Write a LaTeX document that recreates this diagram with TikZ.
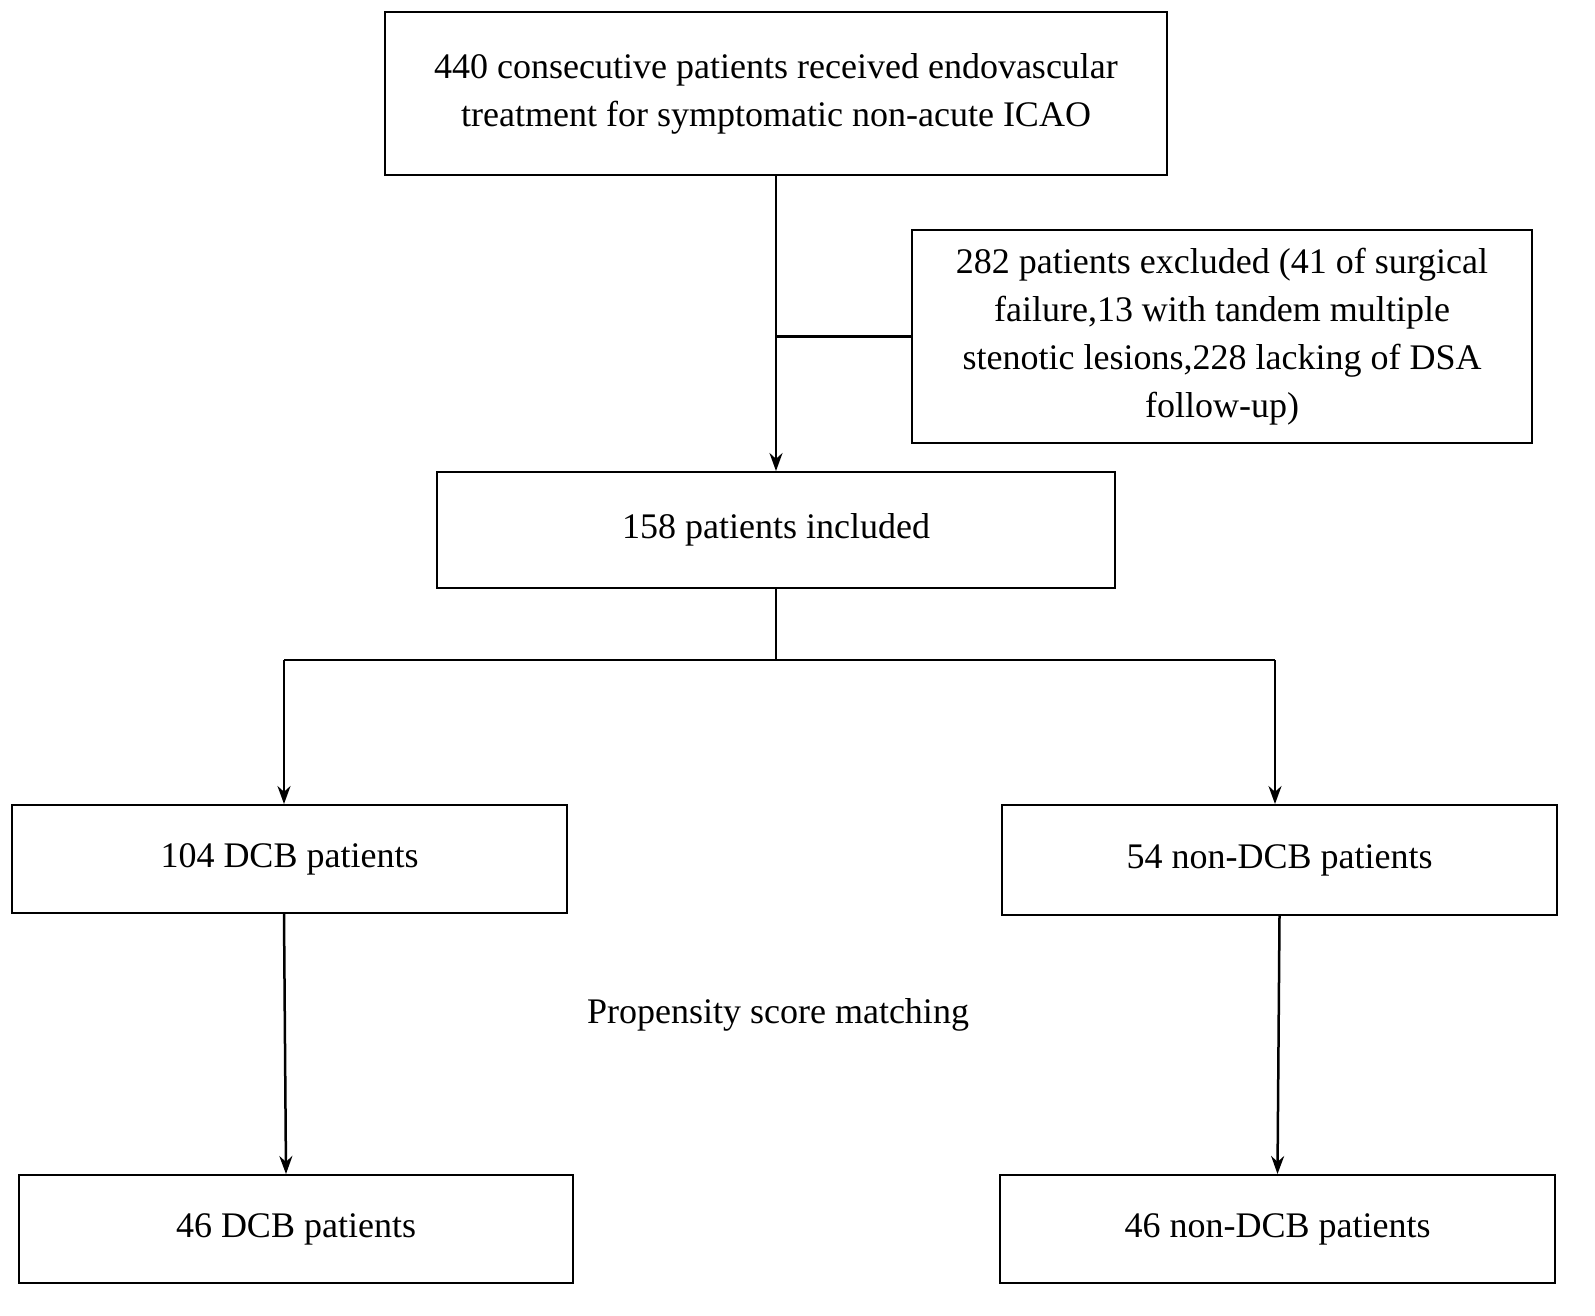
\documentclass[tikz,border=0pt]{standalone}
\usepackage{fontspec}
\setmainfont{Liberation Serif}
\usetikzlibrary{arrows.meta}
\tikzset{every picture/.style={line width=2.5pt}}
\tikzset{flowbox/.style={draw,line width=2pt,align=center,inner sep=0pt,font=\fontsize{36}{48}\selectfont},
  flowarrow/.style={-{Stealth[length=18pt,width=13pt]}}}

\begin{document}
\begin{tikzpicture}[x=1pt,y=1pt,yscale=-1,xscale=1]
\useasboundingbox (0,0) rectangle (1595,1316);

% Boxes
\node (start) [flowbox,minimum width=782pt,minimum height=163pt] at (776,93.5) {440 consecutive patients received endovascular\\treatment for symptomatic non-acute ICAO};
\node (excl) [flowbox,minimum width=620pt,minimum height=213pt] at (1222,336.5) {282 patients excluded (41 of surgical\\failure,13 with tandem multiple\\stenotic lesions,228 lacking of DSA\\follow-up)};
\node (incl) [flowbox,minimum width=678pt,minimum height=116pt] at (776,530) {158 patients included};
\node (dcbA) [flowbox,minimum width=555pt,minimum height=108pt] at (289.5,859) {104 DCB patients};
\node (ndcbA) [flowbox,minimum width=555pt,minimum height=110pt] at (1279.5,860) {54 non-DCB patients};
\node (dcbB) [flowbox,minimum width=554pt,minimum height=108pt] at (296,1229) {46 DCB patients};
\node (ndcbB) [flowbox,minimum width=555pt,minimum height=108pt] at (1277.5,1229) {46 non-DCB patients};
\node (psm) [font=\fontsize{36}{44}\selectfont] at (778,1015) {Propensity score matching};

% Connectors
\coordinate (joinA) at (excl.west -| start.south);
\coordinate (split) at (776,660);
\coordinate (left) at (284,660);
\coordinate (right) at (1275,660);
\draw [flowarrow] (start.south) -- (incl.north);
\draw (excl.west) -- (joinA);
\draw (incl.south) -- (split);
\draw (left) -- (right);
\draw [flowarrow] (left) -- (left |- dcbA.north);
\draw [flowarrow] (right) -- (right |- ndcbA.north);
\draw [flowarrow] (dcbA.south -| left) -- (dcbB.north -| 286,0);
\draw [flowarrow] (ndcbA.south) -- (ndcbB.north);

\end{tikzpicture}
\end{document}
